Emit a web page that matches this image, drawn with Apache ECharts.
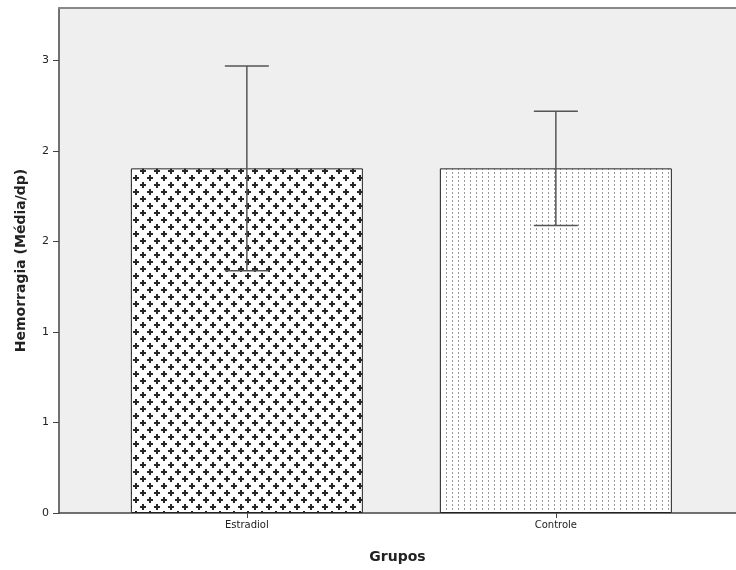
<!DOCTYPE html>
<html>
<head>
<meta charset="utf-8">
<script src="https://cdn.jsdelivr.net/npm/echarts@6/dist/echarts.min.js"></script>
<style>html,body{margin:0;padding:0;background:#fff}#c{width:736px;height:570px}</style>
</head>
<body>
<div id="c"></div>
<script>
var categories = ['Estradiol', 'Controle'];
var means = [1.904, 1.904];
var sds = [0.565, 0.316];
var yTickLabels = ['0', '1', '1', '2', '2', '3'];

var yTickValues = yTickLabels.map(function (_, i) { return i * 0.5; });

function makeCross() {
  var c = document.createElement('canvas');
  c.width = 14; c.height = 14;
  var g = c.getContext('2d');
  g.fillStyle = '#fff'; g.fillRect(0, 0, 14, 14);
  g.fillStyle = '#262626';
  function cross(x, y) {
    g.fillRect(x - 3, y - 1, 6, 2);
    g.fillRect(x - 1, y - 3, 2, 6);
  }
  var pts = [[3, 3], [10, 10], [-4, 10], [17, 3], [3, 17], [10, -4]];
  pts.forEach(function (p) { cross(p[0], p[1]); });
  return c;
}
function makeDots() {
  var c = document.createElement('canvas');
  c.width = 6; c.height = 4;
  var g = c.getContext('2d');
  g.fillStyle = '#fff'; g.fillRect(0, 0, 6, 4);
  g.fillStyle = '#9a9a9a';
  g.fillRect(2, 0, 1, 2);
  return c;
}
var patterns = [
  { image: makeCross(), repeat: 'repeat' },
  { image: makeDots(), repeat: 'repeat' }
];

var chart = echarts.init(document.getElementById('c'));
var font = 'DejaVu Sans';
chart.setOption({
  animation: false,
  backgroundColor: '#fff',
  grid: { left: 59, top: 8, right: 0, bottom: 57, show: true, backgroundColor: '#efefef', borderWidth: 0 },
  xAxis: [{
    type: 'value', min: -0.608, max: 1.583,
    splitLine: { show: false },
    axisLine: { onZero: false, lineStyle: { color: '#444', width: 1.5 } },
    axisTick: { customValues: [0, 1], length: 5, lineStyle: { color: '#444' } },
    axisLabel: { customValues: [0, 1], formatter: function (v) { return categories[Math.round(v)]; },
      color: '#222', fontFamily: font, fontSize: 10, margin: 7 },
    name: 'Grupos', nameLocation: 'middle', nameGap: 37,
    nameTextStyle: { fontFamily: font, fontWeight: 'bold', fontSize: 14, color: '#222' }
  }, {
    type: 'value', position: 'top', min: -0.608, max: 1.583,
    splitLine: { show: false },
    axisLine: { onZero: false, lineStyle: { color: '#888', width: 2 } },
    axisTick: { show: false }, axisLabel: { show: false }
  }],
  yAxis: {
    type: 'value', min: 0, max: 2.79, interval: 0.5,
    splitLine: { show: false },
    axisLine: { show: true, onZero: false, lineStyle: { color: '#444', width: 1.5 } },
    axisTick: { show: true, customValues: yTickValues, length: 6, lineStyle: { color: '#444' } },
    axisLabel: { customValues: yTickValues, formatter: function (v) { return yTickLabels[Math.round(v / 0.5)]; },
      color: '#222', fontFamily: font, fontSize: 11, margin: 10 },
    name: 'Hemorragia (Média/dp)', nameLocation: 'middle', nameGap: 31,
    nameTextStyle: { fontFamily: font, fontWeight: 'bold', fontSize: 14, color: '#222' }
  },
  series: [{
    type: 'bar', barWidth: 232,
    data: means.map(function (m, i) {
      return { value: [i, m], itemStyle: { color: patterns[i], borderColor: '#222', borderWidth: 1 } };
    })
  }, {
    type: 'custom',
    data: means.map(function (m, i) { return [i, m - sds[i], m + sds[i]]; }),
    renderItem: function (params, api) {
      var lo = api.coord([api.value(0), api.value(1)]);
      var hi = api.coord([api.value(0), api.value(2)]);
      var hw = 22;
      var st = { stroke: '#555', lineWidth: 1.5 };
      return { type: 'group', children: [
        { type: 'line', shape: { x1: lo[0], y1: lo[1], x2: hi[0], y2: hi[1] }, style: st },
        { type: 'line', shape: { x1: lo[0] - hw, y1: lo[1], x2: lo[0] + hw, y2: lo[1] }, style: st },
        { type: 'line', shape: { x1: hi[0] - hw, y1: hi[1], x2: hi[0] + hw, y2: hi[1] }, style: st }
      ]};
    },
    z: 5
  }]
});
</script>
</body>
</html>
